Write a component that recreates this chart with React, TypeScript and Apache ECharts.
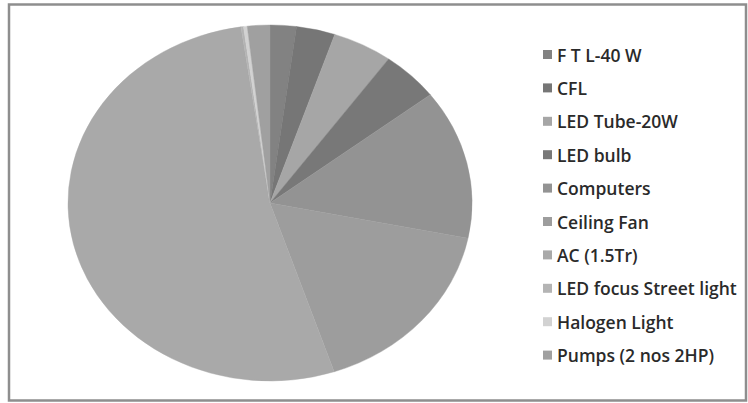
import React, { useEffect, useRef } from "react";
import * as echarts from "echarts";

const categories = [
  "F T L-40 W",
  "CFL",
  "LED Tube-20W",
  "LED bulb",
  "Computers",
  "Ceiling Fan",
  "AC (1.5Tr)",
  "LED focus Street light",
  "Halogen Light",
  "Pumps (2 nos 2HP)",
];
const shares = [2.1, 3.1, 4.8, 4.6, 13.6, 16.7, 52.9, 0.2, 0.3, 1.8];
const colors = [
  "#828282",
  "#767676",
  "#a6a6a6",
  "#787878",
  "#939393",
  "#9d9d9d",
  "#a9a9a9",
  "#b4b4b4",
  "#d2d2d2",
  "#a0a0a0",
];

const CX = 270;
const CY = 203;
const RX = 202;
const RY = 178;

export default function App() {
  const ref = useRef<HTMLDivElement>(null);
  useEffect(() => {
    if (!ref.current) return;
    const chart = echarts.init(ref.current, null, { renderer: "svg" });
    const total = shares.reduce((a, b) => a + b, 0);
    const starts: number[] = [];
    let acc = 0;
    shares.forEach((v) => {
      starts.push(acc);
      acc += v;
    });
    const series = categories.map((name, i) => ({
      type: "custom",
      name,
      coordinateSystem: "none",
      data: [[shares[i]]],
      itemStyle: { color: colors[i] },
      renderItem: (params: any, api: any) => {
        const v = api.value(0);
        const a0 = -Math.PI / 2 + (2 * Math.PI * starts[i]) / total;
        const a1 = a0 + (2 * Math.PI * v) / total;
        return {
          type: "sector",
          x: CX,
          y: CY,
          scaleX: RX / RY,
          shape: { cx: 0, cy: 0, r: RY, r0: 0, startAngle: a0, endAngle: a1, clockwise: true },
          style: { fill: colors[i], stroke: colors[i], lineWidth: 0.4 },
        };
      },
    }));
    chart.setOption({
      animation: false,
      backgroundColor: "#ffffff",
      legend: {
        orient: "vertical",
        left: 543,
        top: 45,
        padding: 0,
        icon: "rect",
        itemWidth: 9,
        itemHeight: 9,
        itemGap: 14.4,
        data: categories,
        textStyle: {
          fontFamily: "Open Sans",
          fontWeight: 600,
          fontSize: 17.5,
          lineHeight: 19,
          color: "#2a2a2a",
        },
      },
      graphic: [
        {
          type: "rect",
          shape: { x: 9, y: 4.5, width: 737, height: 396 },
          style: { fill: "none", stroke: "#8e8e8e", lineWidth: 2.5 },
          silent: true,
        },
      ],
      series,
    } as any);
    return () => chart.dispose();
  }, []);
  return (
    <div
      ref={ref}
      style={{ position: "fixed", left: 0, top: 0, width: 748, height: 403 }}
    />
  );
}
